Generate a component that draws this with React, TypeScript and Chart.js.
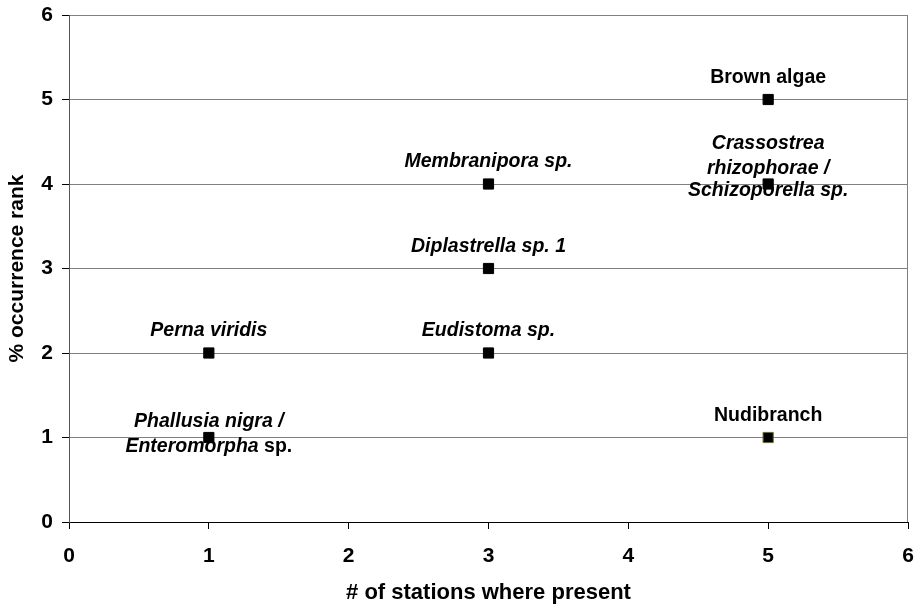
import React, { useEffect, useRef } from "react";
import { Chart, registerables } from "chart.js";

Chart.register(...registerables);

// ---- data ----
const xStations = [5, 5, 3, 3, 1, 3, 1, 5];
const yRanks = [5, 4, 4, 3, 2, 2, 1, 1];
type Seg = [string, boolean]; // [text, italic]
const speciesLabels: Seg[][][] = [
  [[["Brown algae", false]]],
  [[["Crassostrea", true]], [["rhizophorae /", true]], [["Schizoporella sp.", true]]],
  [[["Membranipora sp.", true]]],
  [[["Diplastrella sp. 1", true]]],
  [[["Perna viridis", true]]],
  [[["Eudistoma sp.", true]]],
  [[["Phallusia nigra /", true]], [["Enteromorpha", true], [" sp.", false]]],
  [[["Nudibranch", false]]],
];
const xTitle = "# of stations where present";
const yTitle = "% occurrence rank";
const xMin = 0, xMax = 6, yMin = 0, yMax = 6;

// ---- layout / style ----
const labelBaselines: number[][] = [
  [-17], [-35, -10.5, 12], [-17], [-17], [-17], [-17], [-11, 14], [-17],
];
const pointBorders = ["#000", "#000", "#000", "#000", "#000", "#000", "#000", "#6b6b2a"];
const FONT = "'Liberation Sans', Arial, Helvetica, sans-serif";

const labelPlugin = {
  id: "speciesLabels",
  beforeDatasetsDraw(chart: any) {
    const { ctx, chartArea } = chart;
    ctx.save();
    ctx.strokeStyle = "#808080";
    ctx.lineWidth = 1;
    ctx.beginPath();
    const rx = Math.round(chartArea.right) - 0.5;
    ctx.moveTo(rx, chartArea.top);
    ctx.lineTo(rx, chartArea.bottom);
    ctx.stroke();
    ctx.restore();
  },
  afterDatasetsDraw(chart: any) {
    const { ctx } = chart;
    const meta = chart.getDatasetMeta(0);
    ctx.save();
    ctx.fillStyle = "#000";
    ctx.textBaseline = "alphabetic";
    ctx.textAlign = "left";
    speciesLabels.forEach((lines, i) => {
      const pt = meta.data[i];
      if (!pt) return;
      lines.forEach((segs, j) => {
        const fontFor = (it: boolean) => `${it ? "italic " : ""}bold 19.5px ${FONT}`;
        let total = 0;
        segs.forEach(([t, it]) => {
          ctx.font = fontFor(it);
          total += ctx.measureText(t).width;
        });
        let x = pt.x - total / 2;
        const y = pt.y + labelBaselines[i][j];
        segs.forEach(([t, it]) => {
          ctx.font = fontFor(it);
          ctx.fillText(t, x, y);
          x += ctx.measureText(t).width;
        });
      });
    });
    ctx.restore();
  },
};

export default function App() {
  const ref = useRef<HTMLCanvasElement | null>(null);
  useEffect(() => {
    document.body.style.margin = "0";
    if (!ref.current) return;
    const chart = new Chart(ref.current, {
      type: "scatter",
      data: {
        datasets: [
          {
            data: xStations.map((x, i) => ({ x, y: yRanks[i] })),
            pointStyle: "rect",
            pointRadius: 7.2,
            pointHoverRadius: 7.2,
            backgroundColor: "#000",
            borderColor: pointBorders,
            borderWidth: 1,
          },
        ],
      },
      options: {
        responsive: false,
        animation: false,
        layout: { autoPadding: false, padding: { top: 15, right: 8, bottom: 0, left: 0 } },
        plugins: { legend: { display: false }, tooltip: { enabled: false } },
        scales: {
          x: {
            type: "linear",
            min: xMin,
            max: xMax,
            ticks: {
              stepSize: 1,
              color: "#000",
              padding: 15,
              maxRotation: 0,
              font: { family: FONT, size: 21, weight: "bold" },
            },
            grid: { drawOnChartArea: false, drawTicks: true, tickLength: 7, color: "#000" },
            border: { display: true, color: "#000", width: 1 },
            title: {
              display: true,
              text: xTitle,
              color: "#000",
              font: { family: FONT, size: 22, weight: "bold" },
              padding: { top: 0, bottom: 0 },
            },
            afterFit: (s: any) => {
              s.height = 84;
              s.paddingLeft = 0;
              s.paddingRight = 0;
            },
          },
          y: {
            type: "linear",
            min: yMin,
            max: yMax,
            ticks: {
              stepSize: 1,
              color: "#000",
              padding: 9,
              font: { family: FONT, size: 21, weight: "bold" },
            },
            grid: { color: "#808080", tickColor: "#000", drawTicks: true, tickLength: 7 },
            border: { display: true, color: "#555", width: 1 },
            title: {
              display: true,
              text: yTitle,
              color: "#000",
              font: { family: FONT, size: 21, weight: "bold" },
              padding: { top: 5, bottom: 0 },
            },
            afterFit: (s: any) => {
              s.width = 69;
              s.paddingTop = 0;
              s.paddingBottom = 0;
            },
          },
        },
      },
      plugins: [labelPlugin],
    } as any);
    return () => chart.destroy();
  }, []);
  return (
    <div style={{ width: 916, height: 606 }}>
      <canvas ref={ref} width={916} height={606} style={{ display: "block" }} />
    </div>
  );
}
